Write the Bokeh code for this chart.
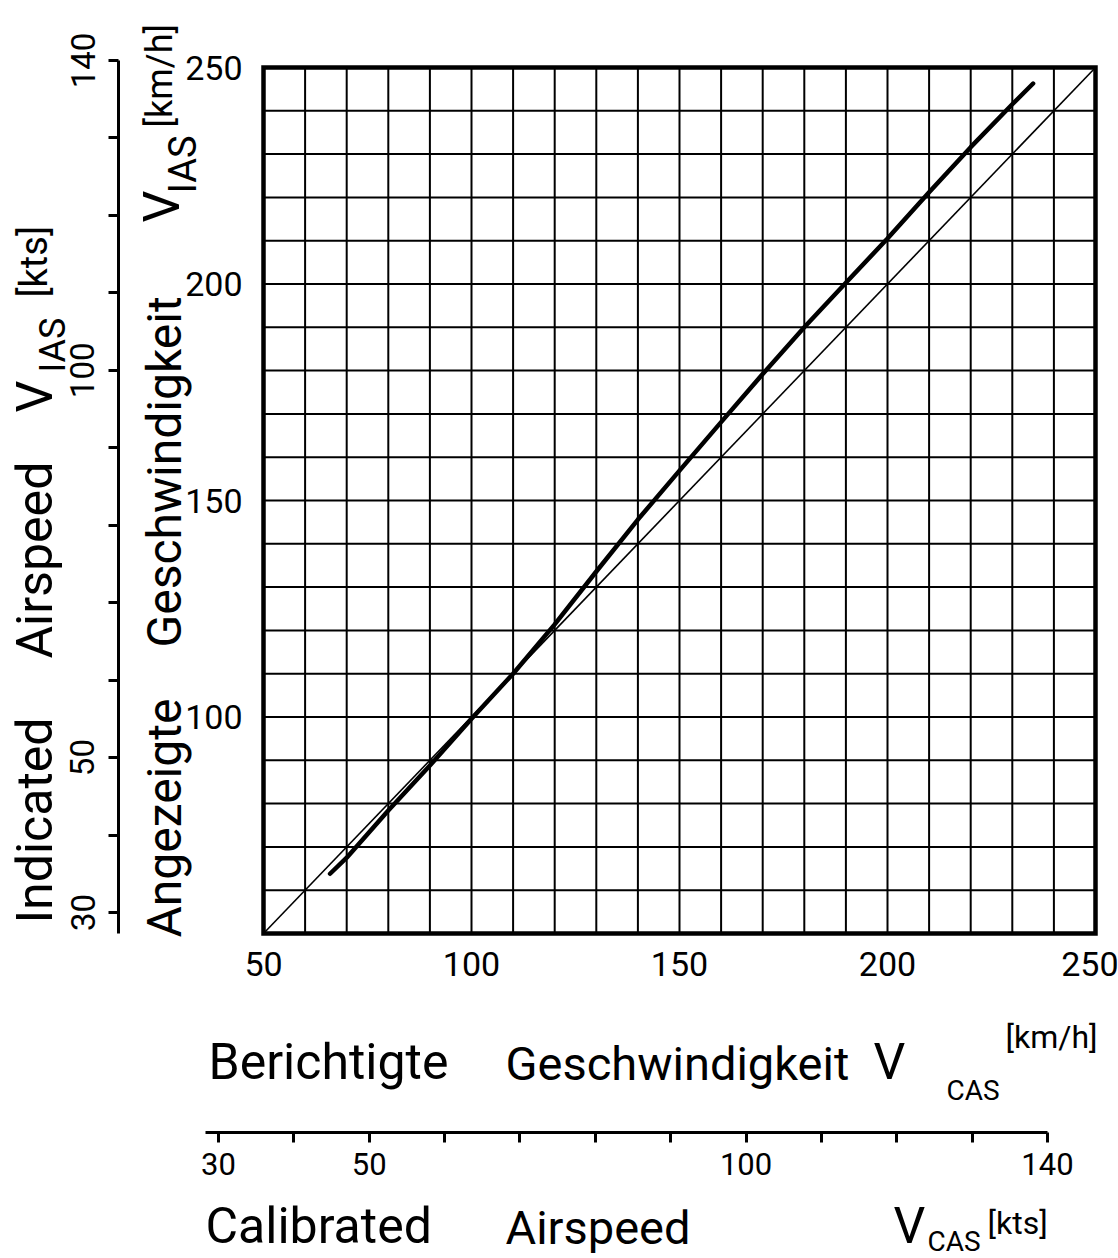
import math
from bokeh.plotting import figure
from bokeh.models import Range1d, FixedTicker, Label, LinearAxis
from bokeh.embed import file_html
from bokeh.resources import INLINE

# ---------------- data (km/h) ----------------
CAS_KMH = [66, 70, 80, 90, 100, 110, 120, 130, 140, 150, 160, 170, 180, 190, 200, 210, 220, 230, 235]
IAS_KMH = [63.8, 67.5, 78.4, 88.8, 99.6, 110.0, 121.4, 133.6, 145.6, 156.9, 168.1, 179.2, 190.0,
           200.3, 210.5, 221.2, 231.6, 241.5, 246.3]
DIAG_KMH = [50, 250]                       # V_IAS = V_CAS reference line
KMH_MIN, KMH_MAX = 50, 250
GRID_KMH = [60, 70, 80, 90, 100, 110, 120, 130, 140, 150, 160, 170, 180, 190, 200, 210, 220, 230, 240]
KMH_X_TICKS = [50, 100, 150, 200, 250]
KMH_Y_TICKS = [100, 150, 200, 250]
KTS_TICKS = [30, 40, 50, 60, 70, 80, 90, 100, 110, 120, 130, 140]
KTS_LABELED = [30, 50, 100, 140]

FONT = "Roboto"
BLACK = "#000000"

# ---------------- canvas geometry (px) ----------------
W, H = 1118, 1258
SX, SY = 4.16, 4.33               # px per km/h
X0_PX, Y0_PX = 263, 933           # position of (50, 50) km/h
X_LO = KMH_MIN - X0_PX / SX
X_HI = KMH_MIN + (W - X0_PX) / SX
Y_LO = KMH_MIN - (H - Y0_PX) / SY
Y_HI = KMH_MIN + Y0_PX / SY
# left kts scale: 30 kts at y=912, 140 kts at y=60
SK = (912 - 60) / 110.0
KY_LO, KY_HI = 30 - (H - 912) / SK, 140 + 60 / SK
KY_AXIS_LO = 30 - (933 - 912) / SK
# bottom kts scale: 30 kts at x=218, 140 kts at x=1047
SKX = (1047 - 218) / 110.0
KX_LO, KX_HI = 30 - 218 / SKX, 140 + (W - 1047) / SKX
KX_AXIS_LO = 30 - (218 - 205) / SKX


def bx(px):
    return X_LO + px / SX


def by(py):
    return Y_LO + (H - py) / SY


p = figure(width=W, height=H, x_range=Range1d(X_LO, X_HI), y_range=Range1d(Y_LO, Y_HI),
           x_axis_location=None, y_axis_location=None, title=None,
           output_backend="svg", toolbar_location=None,
           min_border=0, min_border_left=0, min_border_right=0, min_border_top=0, min_border_bottom=0)
p.outline_line_color = None
p.background_fill_color = "white"
p.border_fill_color = "white"
p.grid.visible = False
p.extra_y_ranges = {"kts_y": Range1d(KY_LO, KY_HI)}
p.extra_x_ranges = {"kts_x": Range1d(KX_LO, KX_HI)}


def style_axis(axis, size, standoff):
    axis.major_label_text_font = FONT
    axis.major_label_text_font_size = f"{size}px"
    axis.major_label_text_color = BLACK
    axis.major_label_standoff = standoff
    axis.minor_tick_line_color = None


# km/h axes (labels only; the box is drawn as a quad)
ax_kmh_y = LinearAxis(fixed_location=KMH_MIN, ticker=FixedTicker(ticks=KMH_Y_TICKS))
ax_kmh_x = LinearAxis(fixed_location=KMH_MIN, ticker=FixedTicker(ticks=KMH_X_TICKS))
for axis, standoff in ((ax_kmh_y, 15), (ax_kmh_x, 12)):
    axis.axis_line_color = None
    axis.major_tick_line_color = None
    style_axis(axis, 34, standoff)
p.add_layout(ax_kmh_y, "left")
p.add_layout(ax_kmh_x, "below")

# kts axes
overrides = {t: (str(t) if t in KTS_LABELED else "") for t in KTS_TICKS}
ax_kts_y = LinearAxis(y_range_name="kts_y", fixed_location=bx(118),
                      ticker=FixedTicker(ticks=KTS_TICKS), bounds=(KY_AXIS_LO, 140))
ax_kts_x = LinearAxis(x_range_name="kts_x", fixed_location=by(1132),
                      ticker=FixedTicker(ticks=KTS_TICKS), bounds=(KX_AXIS_LO, 140))
for axis, size, standoff in ((ax_kts_y, 33, 14), (ax_kts_x, 31, 10)):
    axis.major_label_overrides = overrides
    axis.axis_line_width = 3
    axis.axis_line_color = BLACK
    axis.major_tick_out = 10
    axis.major_tick_in = 0
    axis.major_tick_line_width = 3
    axis.major_tick_line_color = BLACK
    style_axis(axis, size, standoff)
ax_kts_y.major_label_orientation = "vertical"
p.add_layout(ax_kts_y, "left")
p.add_layout(ax_kts_x, "below")

# grid, box, reference diagonal and calibration curve
n = len(GRID_KMH)
p.segment(x0=GRID_KMH, y0=[KMH_MIN] * n, x1=GRID_KMH, y1=[KMH_MAX] * n,
          line_color=BLACK, line_width=2)
p.segment(x0=[KMH_MIN] * n, y0=GRID_KMH, x1=[KMH_MAX] * n, y1=GRID_KMH,
          line_color=BLACK, line_width=2)
p.quad(left=[KMH_MIN], right=[KMH_MAX], bottom=[KMH_MIN], top=[KMH_MAX],
       fill_color=None, line_color=BLACK, line_width=4.5, line_join="miter")
p.line(DIAG_KMH, DIAG_KMH, line_color=BLACK, line_width=1.6)
p.line(CAS_KMH, IAS_KMH, line_color=BLACK, line_width=4.5, line_cap="round", line_join="round")

BASE_SHIFT = 0.37   # label anchor sits this many em above the glyph baseline


def add_label(px, py, text, size, angle=0.0):
    if angle == 0.0:
        py = py - BASE_SHIFT * size
    else:
        px = px - BASE_SHIFT * size
    p.add_layout(Label(x=bx(px), y=by(py), text=text, angle=angle, text_align="left",
                       text_baseline="alphabetic", text_font=FONT,
                       text_font_size=f"{size}px", text_color=BLACK))


up = math.pi / 2
# left-most (kts) title; (baseline x, start y)
add_label(53, 923, "Indicated", 50, up)
add_label(53, 658, "Airspeed", 50, up)
add_label(53, 412, "V", 50, up)
add_label(66, 372, "IAS", 36, up)
add_label(48, 297, "[kts]", 38, up)
# left (km/h) title
add_label(182, 937, "Angezeigte", 48, up)
add_label(182, 647, "Geschwindigkeit", 48, up)
add_label(180, 222, "V", 50, up)
add_label(197, 193, "IAS", 38, up)
add_label(173, 127, "[km/h]", 36, up)
# bottom (km/h) title; (start x, baseline y)
add_label(208, 1080, "Berichtigte", 50)
add_label(505, 1080, "Geschwindigkeit", 47)
add_label(873, 1080, "V", 50)
add_label(946, 1100, "CAS", 28)
add_label(1005, 1048, "[km/h]", 32)
# bottom (kts) title
add_label(205, 1244, "Calibrated", 50)
add_label(505, 1244, "Airspeed", 47)
add_label(893, 1244, "V", 50)
add_label(927, 1251, "CAS", 28)
add_label(987, 1234, "[kts]", 32)

open("out.html", "w").write(file_html(p, INLINE))
